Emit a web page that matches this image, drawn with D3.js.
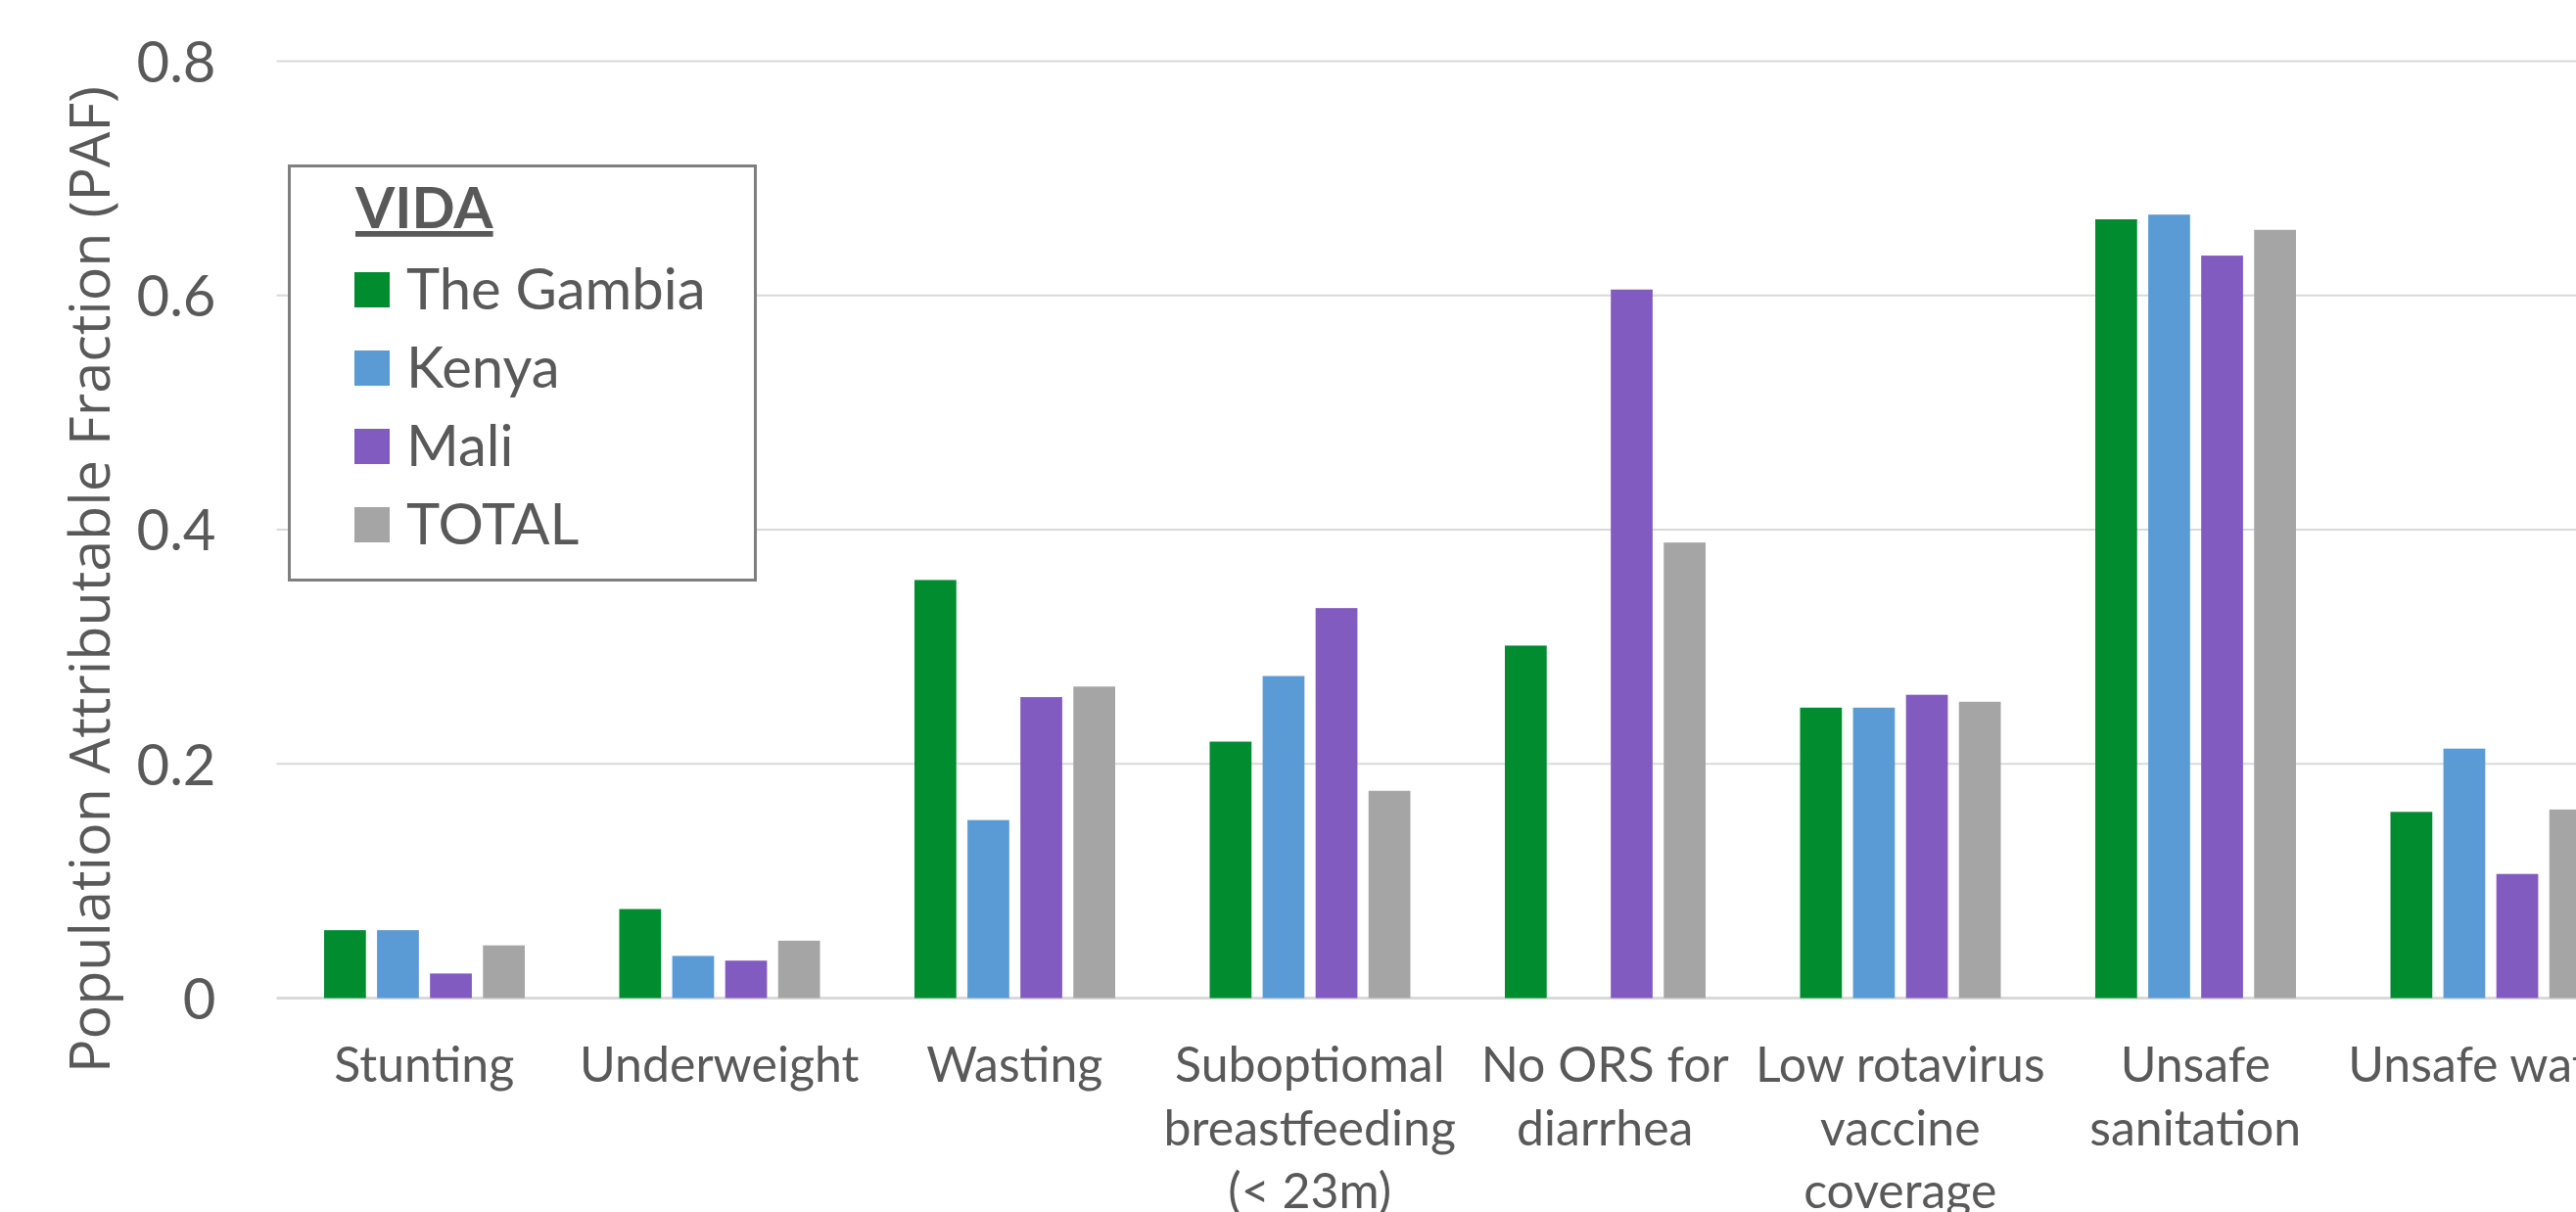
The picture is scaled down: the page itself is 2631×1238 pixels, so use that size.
<!DOCTYPE html>
<html>
<head>
<meta charset="utf-8">
<script src="https://cdn.jsdelivr.net/npm/d3@7"></script>
<style>
    body { margin: 0; background: #fff; overflow: hidden; }
    .tick text, .cat, .legend text { font-family: Lato, sans-serif; fill: #595959; }
</style>
</head>
<body>
<div id="chart"></div>
<script>

// Categories (line breaks as on the original axis)
var categories = [
    'Stunting',
    'Underweight',
    'Wasting',
    'Suboptiomal\nbreastfeeding\n(< 23m)',
    'No ORS for\ndiarrhea',
    'Low rotavirus\nvaccine\ncoverage',
    'Unsafe\nsanitation',
    'Unsafe water'
];

var series = [ 'The Gambia', 'Kenya', 'Mali', 'TOTAL' ];
var colors = [ '#008C2F', '#5B9BD5', '#825BC0', '#A5A5A5' ];

var gambia = [ 0.058, 0.076, 0.357, 0.219, 0.301, 0.248, 0.665, 0.159 ];
var kenya  = [ 0.058, 0.036, 0.152, 0.275, null,  0.248, 0.669, 0.213 ];
var mali   = [ 0.021, 0.032, 0.257, 0.333, 0.605, 0.259, 0.634, 0.106 ];
var total  = [ 0.045, 0.049, 0.266, 0.177, 0.389, 0.253, 0.656, 0.161 ];

var yTicks = [ 0, 0.2, 0.4, 0.6, 0.8 ];

var values = [ gambia, kenya, mali, total ];

var W = 2631, H = 1238;
var left = 282.5, step = 301.5;

var svg = d3.select( '#chart' )
            .append( 'svg' )
            .attr( 'width', W )
            .attr( 'height', H );

var x0 = d3.scaleBand()
           .domain( categories )
           .range( [ left, left + step * categories.length ] );

var x1 = d3.scaleBand()
           .domain( series )
           .range( [ 48.5, 253.5 ] )
           .paddingInner( 0.21 );

var y = d3.scaleLinear()
          .domain( [ 0, 0.8 ] )
          .range( [ 1019.5, 62.5 ] );

// Gridlines
svg.append( 'g' )
   .selectAll( 'line' )
   .data( yTicks )
   .enter().append( 'line' )
   .attr( 'x1', left )
   .attr( 'x2', W )
   .attr( 'y1', function ( d ) { return y( d ); } )
   .attr( 'y2', function ( d ) { return y( d ); } )
   .attr( 'stroke', '#D9D9D9' )
   .attr( 'stroke-width', function ( d ) { return d === 0 ? 3 : 2; } );

// Y axis labels
var yAxis = svg.append( 'g' )
               .attr( 'transform', 'translate(' + left + ',0)' )
               .call( d3.axisLeft( y ).tickValues( yTicks ).tickSize( 0 ).tickPadding( 62 )
                        .tickFormat( function ( d ) { return d === 0 ? '0' : d3.format( '.1f' )( d ); } ) );
yAxis.select( '.domain' ).remove();
yAxis.selectAll( 'text' ).style( 'font-size', '58px' ).attr( 'dy', '0.36em' );

// Bars
var rows = categories.map( function ( c, i ) {
    return series.map( function ( s, j ) { return { cat: c, key: s, value: values[j][i], color: colors[j] }; } );
} );

svg.append( 'g' )
   .selectAll( 'g' )
   .data( rows )
   .enter().append( 'g' )
   .attr( 'transform', function ( d, i ) { return 'translate(' + x0( categories[i] ) + ',0)'; } )
   .selectAll( 'rect' )
   .data( function ( d ) { return d.filter( function ( e ) { return e.value !== null; } ); } )
   .enter().append( 'rect' )
   .attr( 'x', function ( d ) { return x1( d.key ); } )
   .attr( 'width', x1.bandwidth() )
   .attr( 'y', function ( d ) { return y( d.value ); } )
   .attr( 'height', function ( d ) { return y( 0 ) - y( d.value ); } )
   .attr( 'fill', function ( d ) { return d.color; } );

// Category labels
var cat = svg.append( 'g' )
             .selectAll( 'text' )
             .data( categories )
             .enter().append( 'text' )
             .attr( 'class', 'cat' )
             .attr( 'text-anchor', 'middle' )
             .attr( 'x', function ( d ) { return x0( d ) + x0.bandwidth() / 2; } )
             .attr( 'y', 1105 )
             .style( 'font-size', '50px' );

cat.selectAll( 'tspan' )
   .data( function ( d ) { return d.split( '\n' ); } )
   .enter().append( 'tspan' )
   .attr( 'x', function () { return d3.select( this.parentNode ).attr( 'x' ); } )
   .attr( 'dy', function ( d, i ) { return i === 0 ? 0 : 64.5; } )
   .text( function ( d ) { return d; } );

// Y axis title
svg.append( 'text' )
   .attr( 'transform', 'translate(112,' + 592 + ') rotate(-90)' )
   .attr( 'text-anchor', 'middle' )
   .style( 'font-family', '"Open Sans", sans-serif' )
   .style( 'font-size', '57.5px' )
   .style( 'fill', '#595959' )
   .text( 'Population Attributable Fraction (PAF)' );

// Legend
var legend = svg.append( 'g' ).attr( 'class', 'legend' );

legend.append( 'rect' )
      .attr( 'x', 295.5 )
      .attr( 'y', 169.5 )
      .attr( 'width', 476 )
      .attr( 'height', 423 )
      .attr( 'fill', '#fff' )
      .attr( 'stroke', '#7F7F7F' )
      .attr( 'stroke-width', 3 );

legend.append( 'text' )
      .attr( 'x', 363 )
      .attr( 'y', 233 )
      .style( 'font-size', '58px' )
      .style( 'font-weight', 'bold' )
      .style( 'text-decoration', 'underline' )
      .text( 'VIDA' );

var item = legend.selectAll( '.item' )
                 .data( series )
                 .enter().append( 'g' )
                 .attr( 'class', 'item' )
                 .attr( 'transform', function ( d, i ) { return 'translate(0,' + ( 316 + i * 80 ) + ')'; } );

item.append( 'rect' )
    .attr( 'x', 362 )
    .attr( 'y', -38 )
    .attr( 'width', 36 )
    .attr( 'height', 36 )
    .attr( 'fill', function ( d, i ) { return colors[i]; } );

item.append( 'text' )
    .attr( 'x', 415 )
    .attr( 'y', 0 )
    .style( 'font-size', '58px' )
    .text( function ( d ) { return d; } );

</script>
</body>
</html>
